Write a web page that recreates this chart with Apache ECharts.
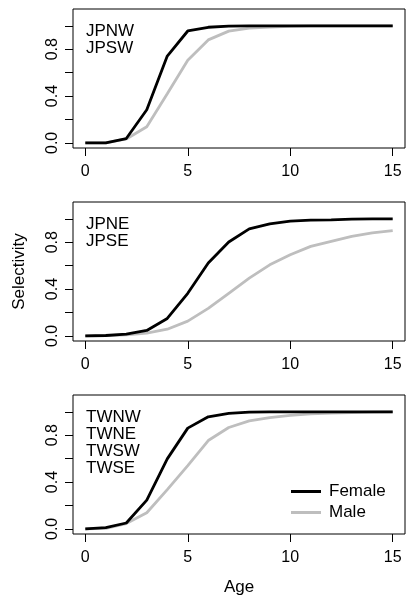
<!DOCTYPE html>
<html>
<head>
<meta charset="utf-8">
<script src="https://cdn.jsdelivr.net/npm/echarts@6/dist/echarts.min.js"></script>
<style>
html,body{margin:0;padding:0;background:#fff;}
#chart{width:406px;height:599px;}
</style>
</head>
<body>
<div id="chart"></div>
<script>
// ---- data ----
const ages = [0,1,2,3,4,5,6,7,8,9,10,11,12,13,14,15];
const xTicks = [0,5,10,15];
const yTicks = [0,0.2,0.4,0.6,0.8,1.0];
const yLabels = [0,0.4,0.8];

const panelLabels = [
  ['JPNW','JPSW'],
  ['JPNE','JPSE'],
  ['TWNW','TWNE','TWSW','TWSE']
];
const femaleNW = [0,0,0.037,0.283,0.742,0.956,0.988,0.998,1,1,1,1,1,1,1,1];
const maleNW   = [0,0,0.033,0.138,0.42,0.706,0.88,0.955,0.98,0.99,0.996,0.999,1,1,1,1];
const femaleNE = [0,0.003,0.014,0.046,0.149,0.364,0.622,0.802,0.914,0.957,0.98,0.989,0.991,0.998,1,1];
const maleNE   = [0,0.002,0.008,0.024,0.057,0.126,0.235,0.364,0.493,0.607,0.693,0.765,0.808,0.851,0.88,0.9];
const femaleTW = [0,0.01,0.05,0.245,0.598,0.861,0.958,0.987,0.997,1,1,1,1,1,1,1];
const maleTW   = [0,0.005,0.045,0.138,0.335,0.54,0.755,0.866,0.923,0.95,0.97,0.982,0.989,0.994,0.997,1];

const femaleSets = [femaleNW, femaleNE, femaleTW];
const maleSets = [maleNW, maleNE, maleTW];

// ---- layout / style ----
const FONT = 'Liberation Sans, Arial, sans-serif';
const tops = [9, 202, 395];
const H = 139;
const grids = tops.map(t => ({
  left: 73, top: t, width: 332, height: H,
  show: true, borderColor: '#000', borderWidth: 1, backgroundColor: 'transparent'
}));

const xAxes = tops.map((t, i) => ({
  type: 'value', gridIndex: i, min: -0.6, max: 15.6, position: 'bottom',
  axisLine: {show: false, onZero: false},
  splitLine: {show: false},
  axisTick: {show: true, inside: false, customValues: xTicks, length: 8, lineStyle: {color: '#000', width: 1}},
  axisLabel: {customValues: xTicks, color: '#000', fontSize: 16, fontFamily: FONT, margin: 16},
  name: i === 2 ? 'Age' : '',
  nameLocation: 'middle', nameGap: 45,
  nameTextStyle: {color: '#000', fontSize: 17, fontFamily: FONT}
}));

const yAxes = tops.map((t, i) => ({
  type: 'value', gridIndex: i, min: -0.044, max: 1.144, position: 'left',
  axisLine: {show: false, onZero: false},
  splitLine: {show: false},
  axisTick: {show: true, inside: false, customValues: yTicks, length: 8, lineStyle: {color: '#000', width: 1}},
  axisLabel: {customValues: yLabels, rotate: 90, color: '#000', fontSize: 16, fontFamily: FONT, margin: 12,
    formatter: v => Number(v).toFixed(1)},
  name: i === 1 ? 'Selectivity' : '',
  nameLocation: 'middle', nameGap: 45, nameRotate: 90,
  nameTextStyle: {color: '#000', fontSize: 17, fontFamily: FONT}
}));

const series = [];
for (let i = 0; i < 3; i++) {
  series.push({
    name: 'Male', type: 'line', xAxisIndex: i, yAxisIndex: i,
    data: ages.map((a, k) => [a, maleSets[i][k]]),
    symbol: 'none', color: '#BEBEBE',
    lineStyle: {color: '#BEBEBE', width: 2.8}, z: 2, silent: true
  });
  series.push({
    name: 'Female', type: 'line', xAxisIndex: i, yAxisIndex: i,
    data: ages.map((a, k) => [a, femaleSets[i][k]]),
    symbol: 'none', color: '#000',
    lineStyle: {color: '#000', width: 2.8}, z: 3, silent: true
  });
}

const graphics = tops.map((t, i) => ({
  type: 'text', x: 86, y: t + 14,
  style: {
    text: panelLabels[i].join('\n'),
    font: '17px ' + FONT, fill: '#000',
    lineHeight: 17, verticalAlign: 'top'
  }
}));

const option = {
  animation: false,
  backgroundColor: '#fff',
  grid: grids,
  xAxis: xAxes,
  yAxis: yAxes,
  series: series,
  graphic: graphics,
  legend: {
    data: ['Female', 'Male'],
    orient: 'vertical',
    left: 286, top: 478,
    icon: 'rect',
    itemWidth: 30, itemHeight: 3, itemGap: 4,
    selectedMode: false,
    textStyle: {color: '#000', fontSize: 17, fontFamily: FONT, padding: [0, 0, 0, 3], lineHeight: 17}
  }
};

const chart = echarts.init(document.getElementById('chart'), null, {renderer: 'canvas'});
chart.setOption(option);
</script>
</body>
</html>
